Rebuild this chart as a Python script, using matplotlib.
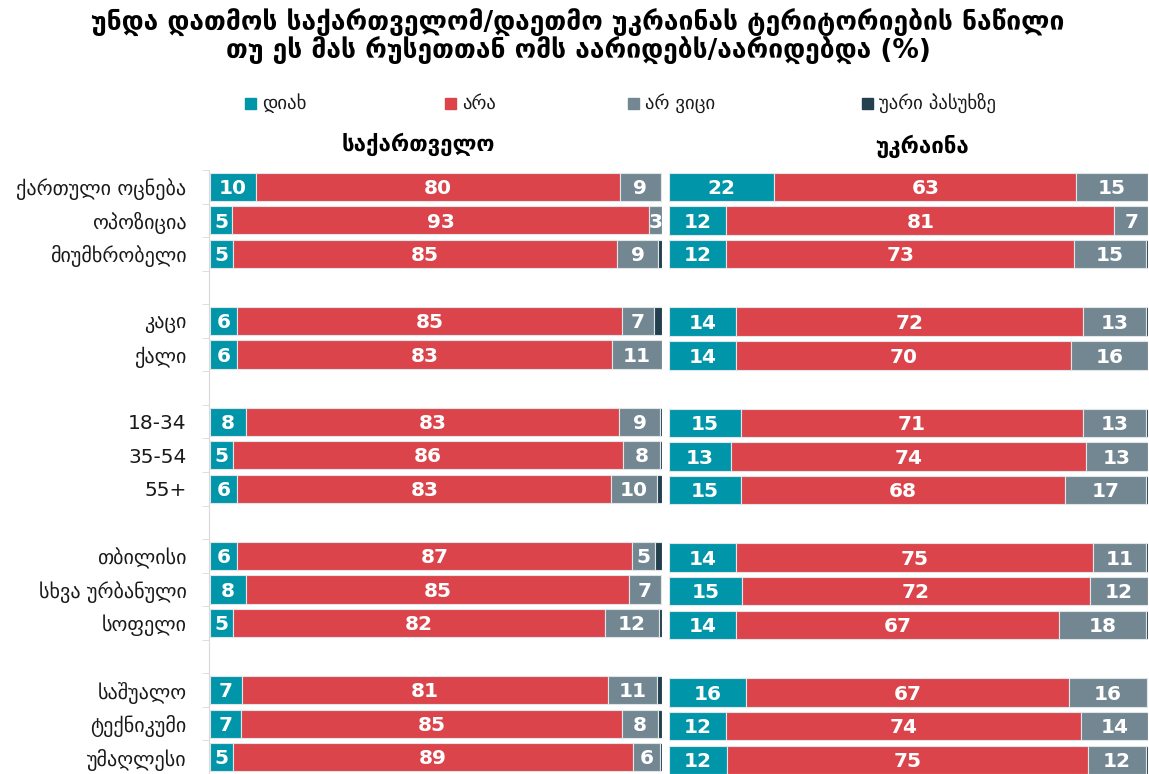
import matplotlib.pyplot as plt
from matplotlib.patches import Rectangle
import numpy as np

plt.rcParams['font.family'] = ['DejaVu Sans']

title = 'უნდა დათმოს საქართველომ/დაეთმო უკრაინას ტერიტორიების ნაწილი\nთუ ეს მას რუსეთთან ომს აარიდებს/აარიდებდა (%)'

categories = ['ქართული ოცნება', 'ოპოზიცია', 'მიუმხრობელი',
              'კაცი', 'ქალი',
              '18-34', '35-54', '55+',
              'თბილისი', 'სხვა ურბანული', 'სოფელი',
              'საშუალო', 'ტექნიკუმი', 'უმაღლესი']
group_sizes = [3, 2, 3, 3, 3]

series = ['დიახ', 'არა', 'არ ვიცი', 'უარი პასუხზე']
colors = ['#0095a8', '#db444b', '#738792', '#24404e']

panels = ['საქართველო', 'უკრაინა']

geo_yes = [10, 5, 5, 6, 6, 8, 5, 6, 6, 8, 5, 7, 7, 5]
geo_no = [80, 93, 85, 85, 83, 83, 86, 83, 87, 85, 82, 81, 85, 89]
geo_dk = [9, 3, 9, 7, 11, 9, 8, 10, 5, 7, 12, 11, 8, 6]
geo_ref = [0.3, 0, 0.9, 1.8, 0, 0.5, 0.5, 1.2, 1.6, 0.3, 0.6, 1, 1, 0.4]

ukr_yes = [22, 12, 12, 14, 14, 15, 13, 15, 14, 15, 14, 16, 12, 12]
ukr_no = [63, 81, 73, 72, 70, 71, 74, 68, 75, 72, 67, 67, 74, 75]
ukr_dk = [15, 7, 15, 13, 16, 13, 13, 17, 11, 12, 18, 16, 14, 12]
ukr_ref = [0, 0, 0.5, 0.5, 0, 0.5, 0, 0.4, 0.5, 0, 0.5, 0.3, 0, 0.5]

# slot positions with an empty slot between groups
pos = []
s = 0
for g in group_sizes:
    pos += list(range(s, s + g))
    s += g + 1
pos = np.array(pos)

W, H = 1149, 774
fig = plt.figure(figsize=(W / 100, H / 100), dpi=100)

top_px = 170
pitch = 33.7
ylim = (-0.5 + (H - top_px) / pitch, -0.5)

ax1 = fig.add_axes([210 / W, 0, (662 - 210) / W, (H - top_px) / H])
ax2 = fig.add_axes([669 / W, 0, (1148 - 669) / W, (H - top_px) / H])

data = [[geo_yes, geo_no, geo_dk, geo_ref], [ukr_yes, ukr_no, ukr_dk, ukr_ref]]

for ax, vals in zip([ax1, ax2], data):
    arr = np.array(vals, dtype=float)
    # bars are drawn as shares of the row total so every row fills the panel
    scale = 100 / arr.sum(axis=0)
    left = np.zeros(len(pos))
    for k in range(4):
        w = arr[k] * scale
        ax.barh(pos, w, left=left, height=0.84, color=colors[k],
                edgecolor='#dfe6ea', linewidth=0.8)
        if k < 3:
            for y, l, ww, v in zip(pos, left, w, arr[k]):
                if v >= 3:
                    ax.text(l + ww / 2, y + 0.05, '%d' % v, ha='center',
                            va='center', color='white', fontsize=14.5,
                            fontweight='bold')
        left += w
    ax.set_xlim(0, 100)
    ax.set_ylim(*ylim)
    for sp in ['top', 'right', 'bottom']:
        ax.spines[sp].set_visible(False)
    ax.set_xticks([])

ax1.spines['left'].set_color('#d9d9d9')
ax1.spines['left'].set_position(('outward', 1))
ax1.set_yticks(pos)
ax1.set_yticklabels(categories, fontsize=14.5, color='#1a1a1a')
ax1.tick_params(axis='y', which='major', length=0, pad=16)
ax1.set_yticks(np.arange(-0.5, 18, 1), minor=True)
ax1.tick_params(axis='y', which='minor', length=5, color='#d9d9d9')

ax2.spines['left'].set_visible(False)
ax2.set_yticks([])

fig.text(578 / W, 1 - 37 / H, title, ha='center', va='center', fontsize=19,
         fontweight='bold', linespacing=1.0)

leg_x = [245, 445, 628, 862]
for x, lab, c in zip(leg_x, series, colors):
    fig.patches.append(Rectangle((x / W, 1 - 109 / H), 11 / W, 11 / H,
                                 transform=fig.transFigure, color=c))
    fig.text((x + 17) / W, 1 - 103 / H, lab, ha='left', va='center',
             fontsize=13.5, color='#1a1a1a')

fig.text(418 / W, 1 - 144 / H, panels[0], ha='center', va='center',
         fontsize=16, fontweight='bold')
fig.text(922 / W, 1 - 146 / H, panels[1], ha='center', va='center',
         fontsize=16, fontweight='bold')

fig.savefig('out.png', dpi=100)
